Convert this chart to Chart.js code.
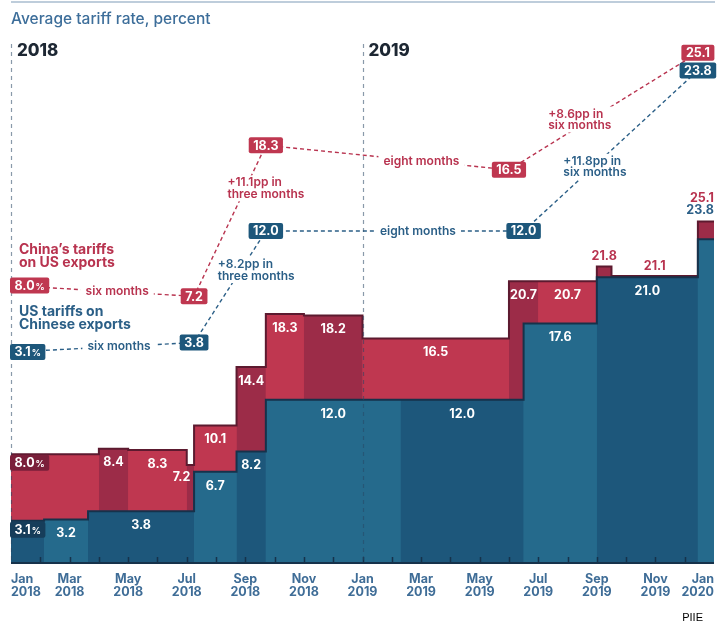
<!DOCTYPE html>
<html>
<head>
<meta charset="utf-8">
<script src="https://cdn.jsdelivr.net/npm/chart.js@4.4.1/dist/chart.umd.min.js"></script>
<style>
  html, body { margin: 0; padding: 0; background: #fff; }
  #wrap { position: relative; width: 727px; height: 631px; }
</style>
</head>
<body>
<div id="wrap"><canvas id="chart" width="727" height="631"></canvas></div>
<script>
// Time is in months since Jan 2018 (0 = Jan 2018, 24 = Jan 2020)
const periodEnd = 24;

// China's tariffs on US exports: start of each rate period and its rate
const chinaStart = [0, 3, 4, 6, 6.25, 7.7, 8.7, 10, 12, 17, 18, 20, 20.5, 23.45];
const chinaRate = [8.0, 8.4, 8.3, 7.2, 10.1, 14.4, 18.3, 18.2, 16.5, 20.7, 20.7, 21.8, 21.1, 25.1];

// US tariffs on Chinese exports
const usStart = [0, 1.13, 2.63, 6.25, 7.7, 8.7, 13.3, 17.5, 20, 23.45];
const usRate = [3.1, 3.2, 3.8, 6.7, 8.2, 12.0, 12.0, 17.6, 21.0, 23.8];

// Milestones joined by the dashed summary lines
const chinaPathX = [0, 6.25, 8.7, 17, 23.45];
const chinaPathY = [8.0, 7.2, 18.3, 16.5, 25.1];
const usPathX = [0, 6.25, 8.7, 17.5, 23.45];
const usPathY = [3.1, 3.8, 12.0, 12.0, 23.8];
const chinaPathNotes = [['six months'], ['+11.1pp in', 'three months'], ['eight months'], ['+8.6pp in', 'six months']];
const usPathNotes = [['six months'], ['+8.2pp in', 'three months'], ['eight months'], ['+11.8pp in', 'six months']];

const tickLabels = [
  ['Jan', '2018'], ['Mar', '2018'], ['May', '2018'], ['Jul', '2018'], ['Sep', '2018'], ['Nov', '2018'],
  ['Jan', '2019'], ['Mar', '2019'], ['May', '2019'], ['Jul', '2019'], ['Sep', '2019'], ['Nov', '2019'],
  ['Jan', '2020']
];
const yearLabels = ['2018', '2019'];
const yearStarts = [0, 12];

const COLORS = {
  redLight: '#bf3750', redDark: '#9c2c48', redLine: '#5c1a2f', redBox: '#7a1f3a', redText: '#b8334f',
  blueLight: '#256a8c', blueDark: '#1d577b', blueLine: '#16324b', blueBox: '#163d5a', blueText: '#2b5f87',
  axis: '#3f6d97'
};
const FAMILY = 'Inter, "Noto Sans", sans-serif';
const F = (w, s) => `${w} ${s}px ${FAMILY}`;

// where each note sits along its dashed segment (t = fraction, dx = shift for two-line notes)
const notePlace = {
  china: [{ t: 0.58 }, { t: 0.715, dx: -18 }, { t: 0.64 }, { t: 0.43, dx: -42 }],
  us: [{ t: 0.59 }, { t: 0.65, dx: -23 }, { t: 0.59 }, { t: 0.40, dx: -30 }]
};

function segEnd(starts, i) {
  return i < starts.length - 1 ? starts[i + 1] : periodEnd;
}

function rateAt(starts, rates, k) {
  let v = rates[0];
  starts.forEach((s, i) => { if (k >= s) v = rates[i]; });
  return v;
}

function stepPoints(starts, rates) {
  const pts = starts.map((s, i) => ({ x: s, y: rates[i] }));
  pts.push({ x: periodEnd, y: rates[rates.length - 1] });
  return pts;
}

// one filled step under the whole series, so neighbouring shades leave no seams
function underlaySet(starts, rates, color) {
  return { data: stepPoints(starts, rates), stepped: true, backgroundColor: color, borderWidth: 0, pointRadius: 0, fill: 'origin' };
}

// the darker shade on alternating periods
function shadeSets(starts, rates, color, firstDark) {
  return starts.map((s, i) => ({ s, i })).filter(o => (o.i % 2 === 0) === firstDark).map(({ s, i }) => ({
    data: [{ x: s, y: rates[i] }, { x: segEnd(starts, i), y: rates[i] }],
    backgroundColor: color,
    borderWidth: 0,
    pointRadius: 0,
    fill: 'origin'
  }));
}

function outlineSet(starts, rates, color) {
  return { data: stepPoints(starts, rates), stepped: true, borderColor: color, borderWidth: 2, pointRadius: 0, fill: false };
}

function pathSet(xs, ys, color) {
  return {
    data: xs.map((k, i) => ({ x: k, y: ys[i] })),
    yAxisID: 'y2',
    borderColor: color,
    borderWidth: 1.4,
    borderDash: [4, 3],
    pointRadius: 0,
    fill: false
  };
}

// draw order: bottom first
const datasets = [].concat(
  [underlaySet(chinaStart, chinaRate, COLORS.redLight)],
  shadeSets(chinaStart, chinaRate, COLORS.redDark, false),
  [outlineSet(chinaStart, chinaRate, COLORS.redLine)],
  [underlaySet(usStart, usRate, COLORS.blueLight)],
  shadeSets(usStart, usRate, COLORS.blueDark, true),
  [outlineSet(usStart, usRate, COLORS.blueLine)],
  [pathSet(chinaPathX, chinaPathY, COLORS.redText), pathSet(usPathX, usPathY, COLORS.blueText)]
);
datasets.forEach((d, i) => { d.order = datasets.length - i; });

function roundRect(ctx, x, y, w, h, r) {
  ctx.beginPath();
  ctx.moveTo(x + r, y);
  ctx.arcTo(x + w, y, x + w, y + h, r);
  ctx.arcTo(x + w, y + h, x, y + h, r);
  ctx.arcTo(x, y + h, x, y, r);
  ctx.arcTo(x, y, x + w, y, r);
  ctx.closePath();
}

function badge(ctx, px, cy, v, fill, pct, alignLeft) {
  const main = v.toFixed(1);
  ctx.font = F(700, 12.5);
  const w1 = ctx.measureText(main).width;
  ctx.font = F(700, 9);
  const w2 = pct ? ctx.measureText('%').width + 1 : 0;
  const w = w1 + w2 + 9, h = 16;
  const left = alignLeft ? px : px - w / 2;
  ctx.fillStyle = fill;
  roundRect(ctx, left, cy - h / 2, w, h, 2);
  ctx.fill();
  ctx.fillStyle = '#fff';
  ctx.textAlign = 'left';
  ctx.textBaseline = 'middle';
  ctx.font = F(700, 12.5);
  ctx.fillText(main, left + 4.5, cy + 0.5);
  if (pct) {
    ctx.font = F(700, 9);
    ctx.fillText('%', left + 5.5 + w1, cy + 1.5);
  }
}

function drawNotes(ctx, xScale, y2, xs, ys, notes, place, color) {
  notes.forEach((lines, i) => {
    const ax = xScale.getPixelForValue(xs[i]), ay = y2.getPixelForValue(ys[i]);
    const bx = xScale.getPixelForValue(xs[i + 1]), by = y2.getPixelForValue(ys[i + 1]);
    const p = place[i];
    const px = ax + (bx - ax) * p.t, py = ay + (by - ay) * p.t;
    ctx.font = F(600, 12);
    ctx.textBaseline = 'middle';
    if (lines.length === 1) {
      const w = ctx.measureText(lines[0]).width;
      ctx.fillStyle = '#fff';
      ctx.fillRect(px - w / 2 - 5, py - 7, w + 10, 14);
      ctx.fillStyle = color;
      ctx.textAlign = 'center';
      ctx.fillText(lines[0], px, py);
    } else {
      const w = Math.max(...lines.map(l => ctx.measureText(l).width));
      const left = px + (p.dx || 0);
      ctx.fillStyle = '#fff';
      ctx.fillRect(left - 3, py - 13, w + 6, 26);
      ctx.fillStyle = color;
      ctx.textAlign = 'left';
      lines.forEach((l, j) => ctx.fillText(l, left, py - 5.5 + j * 11.5));
    }
  });
}

const annotate = {
  id: 'annotate',
  afterDatasetsDraw(chart) {
    const { ctx, chartArea: a, scales: { x, y, y2 } } = chart;
    ctx.save();

    // month tick marks and baseline
    ctx.strokeStyle = COLORS.blueLine;
    ctx.lineWidth = 1.5;
    for (let k = 1; k < periodEnd; k++) {
      const px = Math.round(x.getPixelForValue(k)) + 0.5;
      ctx.beginPath();
      ctx.moveTo(px, a.bottom - 6);
      ctx.lineTo(px, a.bottom);
      ctx.stroke();
    }
    ctx.lineWidth = 2;
    ctx.beginPath();
    ctx.moveTo(a.left, a.bottom);
    ctx.lineTo(a.right, a.bottom);
    ctx.stroke();

    // year separators
    ctx.strokeStyle = 'rgba(40, 70, 100, 0.55)';
    ctx.lineWidth = 1.2;
    ctx.setLineDash([4, 4]);
    yearStarts.forEach(k => {
      const px = Math.round(x.getPixelForValue(k)) + 0.5;
      ctx.beginPath();
      ctx.moveTo(px, a.top - 2);
      ctx.lineTo(px, a.bottom);
      ctx.stroke();
    });
    ctx.setLineDash([]);

    // year headings
    ctx.fillStyle = '#1d2733';
    ctx.font = F(800, 17);
    ctx.textAlign = 'left';
    ctx.textBaseline = 'middle';
    yearStarts.forEach((k, i) => ctx.fillText(yearLabels[i], x.getPixelForValue(k) + 6, a.top + 5));

    const usNarrow = i => x.getPixelForValue(segEnd(usStart, i)) - x.getPixelForValue(usStart[i]) < 20;

    // China rate labels
    chinaStart.forEach((s, i) => {
      const v = chinaRate[i];
      const e = segEnd(chinaStart, i);
      const x0 = x.getPixelForValue(s), x1 = x.getPixelForValue(e);
      const top = y.getPixelForValue(v);
      if (i === 0) {
        badge(ctx, a.left - 1, top + 8.5, v, COLORS.redBox, true, true);
        return;
      }
      const mid = (s + e) / 2;
      const gap = v - rateAt(usStart, usRate, mid);
      ctx.font = F(700, 12.5);
      ctx.textBaseline = 'middle';
      const txt = v.toFixed(1);
      const w = ctx.measureText(txt).width;
      let cx = (x0 + x1) / 2;
      if (gap < 1.5) {
        const ui = usStart.filter(u => u <= mid).length - 1;
        cx = Math.min(cx, a.right - w / 2);
        ctx.fillStyle = COLORS.redText;
        ctx.textAlign = 'center';
        ctx.fillText(txt, cx, top - (usNarrow(ui) ? 23 : 10));
      } else if (x1 - x0 < 20) {
        ctx.fillStyle = '#fff';
        ctx.textAlign = 'right';
        ctx.fillText(txt, cx, top + 12);
      } else {
        ctx.fillStyle = '#fff';
        ctx.textAlign = 'center';
        ctx.fillText(txt, cx, top + 14);
      }
    });

    // US rate labels
    usStart.forEach((s, i) => {
      const v = usRate[i];
      const e = segEnd(usStart, i);
      const x0 = x.getPixelForValue(s), x1 = x.getPixelForValue(e);
      const top = y.getPixelForValue(v);
      if (i === 0) {
        badge(ctx, a.left - 1, top + 9, v, COLORS.blueBox, true, true);
        return;
      }
      ctx.font = F(700, 12.5);
      ctx.textBaseline = 'middle';
      const txt = v.toFixed(1);
      const w = ctx.measureText(txt).width;
      let cx = (x0 + x1) / 2;
      if (usNarrow(i)) {
        const redTop = y.getPixelForValue(rateAt(chinaStart, chinaRate, (s + e) / 2));
        cx = Math.min(cx, a.right - w / 2);
        ctx.fillStyle = COLORS.blueText;
        ctx.textAlign = 'center';
        ctx.fillText(txt, cx, redTop - 11);
      } else {
        ctx.fillStyle = '#fff';
        ctx.textAlign = 'center';
        ctx.fillText(txt, cx, top + 14);
      }
    });

    // notes on the dashed summary lines, then the milestone boxes
    drawNotes(ctx, x, y2, chinaPathX, chinaPathY, chinaPathNotes, notePlace.china, COLORS.redText);
    drawNotes(ctx, x, y2, usPathX, usPathY, usPathNotes, notePlace.us, COLORS.blueText);
    chinaPathX.forEach((k, i) => {
      const px = i === 0 ? a.left - 1 : x.getPixelForValue(k);
      badge(ctx, px, y2.getPixelForValue(chinaPathY[i]), chinaPathY[i], COLORS.redLight, i === 0, i === 0);
    });
    usPathX.forEach((k, i) => {
      const px = i === 0 ? a.left - 1 : x.getPixelForValue(k);
      badge(ctx, px, y2.getPixelForValue(usPathY[i]), usPathY[i], COLORS.blueDark, i === 0, i === 0);
    });

    // series names
    ctx.font = F(700, 14);
    ctx.textAlign = 'left';
    ctx.textBaseline = 'middle';
    ctx.fillStyle = COLORS.redText;
    const cy = y2.getPixelForValue(chinaPathY[0]);
    ctx.fillText('China\u2019s tariffs', a.left + 8, cy - 36);
    ctx.fillText('on US exports', a.left + 8, cy - 23);
    ctx.fillStyle = COLORS.blueText;
    const uy = y2.getPixelForValue(usPathY[0]);
    ctx.fillText('US tariffs on', a.left + 8, uy - 40);
    ctx.fillText('Chinese exports', a.left + 8, uy - 27);

    ctx.restore();
  },
  afterDraw(chart) {
    const { ctx, chartArea: a } = chart;
    ctx.save();
    ctx.strokeStyle = '#a9bdcf';
    ctx.lineWidth = 1.5;
    ctx.beginPath();
    ctx.moveTo(a.left, 2);
    ctx.lineTo(a.right + 1, 2);
    ctx.stroke();
    ctx.fillStyle = '#3d6e9a';
    ctx.font = F(500, 15.5);
    ctx.textAlign = 'left';
    ctx.textBaseline = 'middle';
    ctx.fillText('Average tariff rate, percent', a.left, 19);
    ctx.fillStyle = '#000';
    ctx.font = '11px "Liberation Sans", Arial, sans-serif';
    ctx.textAlign = 'right';
    ctx.fillText('PIIE', 703, 618);
    ctx.restore();
  }
};

new Chart(document.getElementById('chart').getContext('2d'), {
  type: 'line',
  data: { datasets },
  options: {
    responsive: false,
    animation: false,
    events: [],
    layout: { padding: { left: 11, right: 13, top: 46, bottom: 0 } },
    plugins: { legend: { display: false }, tooltip: { enabled: false } },
    scales: {
      x: {
        type: 'linear',
        min: 0,
        max: periodEnd,
        afterFit: s => { s.height = 68; },
        grid: { display: false, drawTicks: false },
        border: { display: false },
        ticks: {
          stepSize: 2,
          autoSkip: false,
          maxRotation: 0,
          align: 'inner',
          padding: 10,
          color: COLORS.axis,
          font: { family: FAMILY, weight: 'bold', size: 12.5, lineHeight: 1 },
          callback: v => tickLabels[v / 2]
        }
      },
      y: { display: false, min: 0, max: 38 },
      y2: { display: false, min: -12.4, max: 25.6 }
    }
  },
  plugins: [annotate]
});
</script>
</body>
</html>
